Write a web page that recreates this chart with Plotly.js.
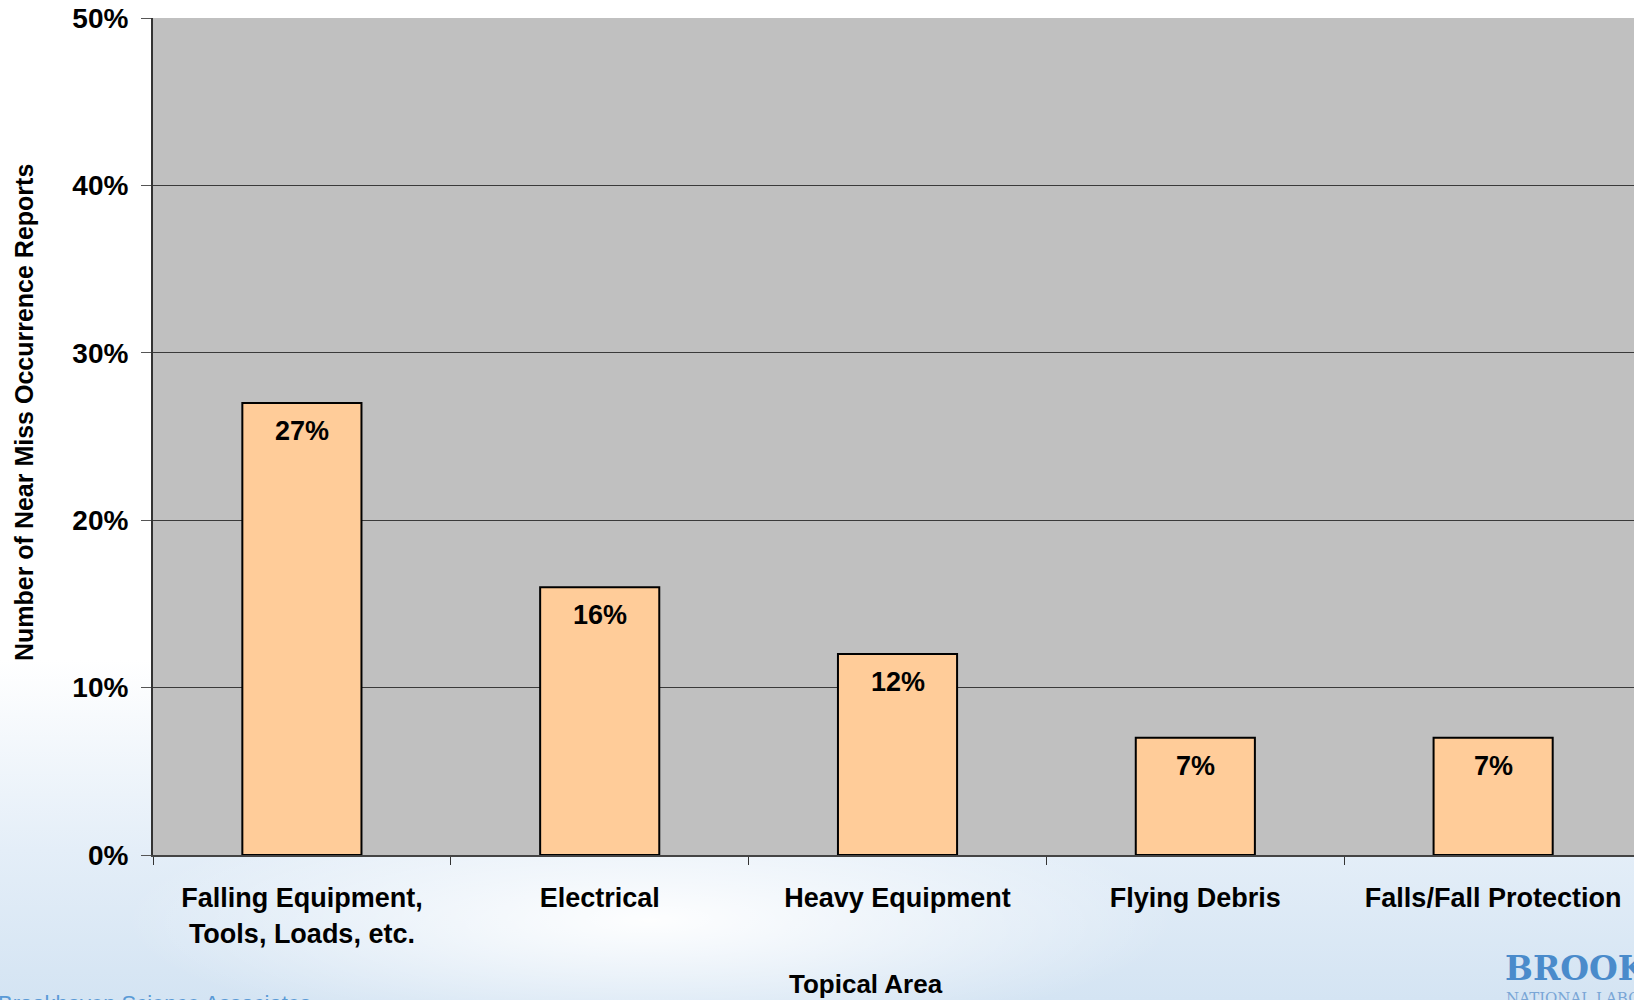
<!DOCTYPE html>
<html>
<head>
<meta charset="utf-8">
<script src="https://cdn.plot.ly/plotly-3.0.1.min.js"></script>
<style>
  html, body { margin: 0; padding: 0; }
  body {
    width: 1634px; height: 1000px; overflow: hidden;
    background:
      radial-gradient(ellipse 700px 160px at 650px 920px, rgba(255,255,255,0.95), rgba(255,255,255,0) 75%),
      linear-gradient(to bottom, #ffffff 0px, #ffffff 660px, #e4eef8 850px, #d4e4f3 1000px);
  }
  #chart { width: 1634px; height: 1000px; }
</style>
</head>
<body>
<div id="chart"></div>
<script>
const categories = ["Falling Equipment,<br>Tools, Loads, etc.", "Electrical", "Heavy Equipment", "Flying Debris", "Falls/Fall Protection"];
const values = [27, 16, 12, 7, 7];
const valueLabels = ["27%", "16%", "12%", "7%", "7%"];
const yTitle = "Number of Near Miss Occurrence Reports";
const xTitle = "Topical Area";

const FONT = "Liberation Sans, Arial, Helvetica, sans-serif";

const trace = {
  type: "bar",
  x: categories,
  y: values,
  width: 0.4,
  marker: { color: "#ffcc99", line: { color: "#000000", width: 2 } },
  hoverinfo: "none"
};

const labelAnnotations = categories.map((c, i) => ({
  x: c, y: values[i], xref: "x", yref: "y",
  text: valueLabels[i], showarrow: false,
  yanchor: "top", yshift: -11,
  font: { family: FONT, size: 27, color: "#000", weight: "bold" }
}));

const layout = {
  width: 1634, height: 1000,
  margin: { l: 153, r: 0, t: 18, b: 145 },
  paper_bgcolor: "rgba(0,0,0,0)",
  plot_bgcolor: "#c0c0c0",
  showlegend: false,
  xaxis: {
    type: "category",
    range: [-0.5, 4.473],
    showline: true, linecolor: "#444", linewidth: 2,
    ticks: "outside", ticklen: 8, tickcolor: "#333", tickwidth: 1,
    tickson: "boundaries",
    showgrid: false,
    ticklabelstandoff: 18,
    tickfont: { family: FONT, size: 27, color: "#000", weight: "bold" }
  },
  yaxis: {
    range: [0, 50],
    dtick: 10, tick0: 0,
    ticksuffix: "%",
    showline: true, linecolor: "#333", linewidth: 2,
    ticks: "outside", ticklen: 10, tickcolor: "#555", tickwidth: 1,
    showgrid: true, gridcolor: "#3a3a3a", gridwidth: 1,
    zeroline: false,
    ticklabelstandoff: 7,
    tickfont: { family: FONT, size: 28, color: "#000", weight: "bold" }
  },
  annotations: labelAnnotations.concat([
    {
      xref: "paper", yref: "paper", x: -0.0871, y: 0.528,
      text: yTitle, textangle: -90, showarrow: false,
      xanchor: "center", yanchor: "middle",
      font: { family: FONT, size: 25, color: "#000", weight: "bold" }
    },
    {
      xref: "paper", yref: "paper", x: 0.4814, y: -0.1745,
      text: xTitle, showarrow: false,
      xanchor: "center", yanchor: "bottom",
      font: { family: FONT, size: 26, color: "#000", weight: "bold" }
    },
    {
      xref: "paper", yref: "paper", x: -0.106, y: -0.160,
      text: "Brookhaven Science Associates", showarrow: false,
      xanchor: "left", yanchor: "top",
      font: { family: FONT, size: 22, color: "#5a9ad6" }
    },
    {
      xref: "paper", yref: "paper", x: 0.9115, y: -0.110,
      text: "BROOKHAVEN", showarrow: false,
      xanchor: "left", yanchor: "top",
      font: { family: "DejaVu Serif, serif", size: 33, color: "#4a8bcb", weight: "bold" }
    },
    {
      xref: "paper", yref: "paper", x: 0.9125, y: -0.158,
      text: "NATIONAL LABORATORY", showarrow: false,
      xanchor: "left", yanchor: "top",
      font: { family: "DejaVu Serif, serif", size: 15, color: "#7aa6d6" }
    }
  ])
};

Plotly.newPlot("chart", [trace], layout, { staticPlot: true, displayModeBar: false });
</script>
</body>
</html>
